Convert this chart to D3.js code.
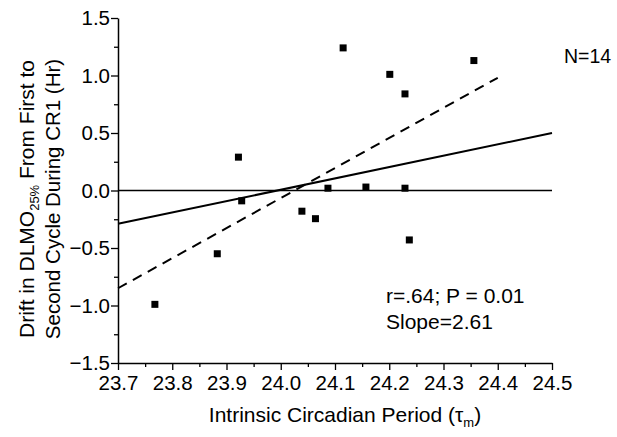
<!DOCTYPE html>
<html>
<head>
<meta charset="utf-8">
<script src="https://cdn.jsdelivr.net/npm/d3@7"></script>
<style>
  body { margin: 0; background: #fff; }
  svg text { font-family: "Liberation Sans", Arial, sans-serif; fill: #000; }
</style>
</head>
<body>
<svg id="chart" width="617" height="437"></svg>
<script>
// measured values (period in hr, drift in hr)
var periods = [23.768, 23.883, 23.922, 23.928, 24.039, 24.064, 24.115, 24.087, 24.157, 24.201, 24.229, 24.356, 24.229, 24.237];
var drifts  = [-0.99, -0.55, 0.29, -0.09, -0.18, -0.245, 1.24, 0.02, 0.03, 1.01, 0.84, 1.13, 0.02, -0.43];

// fitted lines
var solidLine  = [[23.7, -0.29], [24.5, 0.50]];
var dashedLine = [[23.7, -0.85], [24.4, 0.98]];
var zeroLine   = [[23.7, 0], [24.5, 0]];

var xTicks = [23.7, 23.8, 23.9, 24.0, 24.1, 24.2, 24.3, 24.4, 24.5];
var yTicks = [-1.5, -1.0, -0.5, 0.0, 0.5, 1.0, 1.5];

var svg = d3.select("#chart");

var x = d3.scaleLinear().domain([23.7, 24.5]).range([118, 552]);
var y = d3.scaleLinear().domain([-1.5, 1.5]).range([363, 18]);

// minor ticks first (no labels)
var xMinor = d3.range(23.75, 24.5, 0.1);
var yMinor = d3.range(-1.25, 1.5, 0.5);

svg.append("g")
  .attr("transform", "translate(0,363)")
  .call(d3.axisBottom(x).tickValues(xMinor).tickSize(4).tickFormat(""))
  .call(function(g) { g.select(".domain").remove(); g.selectAll("line").attr("stroke-width", 1.3); });

svg.append("g")
  .attr("transform", "translate(118,0)")
  .call(d3.axisLeft(y).tickValues(yMinor).tickSize(4).tickFormat(""))
  .call(function(g) { g.select(".domain").remove(); g.selectAll("line").attr("stroke-width", 1.3); });

// major axes
var xAxis = svg.append("g")
  .attr("transform", "translate(0,363)")
  .call(d3.axisBottom(x).tickValues(xTicks).tickSize(7).tickSizeOuter(0).tickFormat(d3.format(".1f")));

var yAxis = svg.append("g")
  .attr("transform", "translate(118,0)")
  .call(d3.axisLeft(y).tickValues(yTicks).tickSize(7).tickSizeOuter(0).tickFormat(d3.format(".1f")));

[xAxis, yAxis].forEach(function(g) {
  g.select(".domain").attr("stroke-width", 1.5);
  g.selectAll("line").attr("stroke-width", 1.3);
  g.selectAll("text").attr("font-size", 20.5).attr("font-family", "Liberation Sans, Arial, sans-serif");
});
xAxis.selectAll("text").attr("dy", "0.93em").attr("y", 8);
yAxis.selectAll("text").attr("x", -8);

var line = d3.line().x(function(d) { return x(d[0]); }).y(function(d) { return y(d[1]); });

svg.append("path").datum(zeroLine).attr("d", line)
  .attr("fill", "none").attr("stroke", "#000").attr("stroke-width", 1.5);

svg.append("path").datum(solidLine).attr("d", line)
  .attr("fill", "none").attr("stroke", "#000").attr("stroke-width", 2);

svg.append("path").datum(dashedLine).attr("d", line)
  .attr("fill", "none").attr("stroke", "#000").attr("stroke-width", 2)
  .attr("stroke-dasharray", "10,7");

// points
var sz = 7;
svg.append("g").selectAll("rect")
  .data(periods.map(function(p, i) { return [p, drifts[i]]; }))
  .enter().append("rect")
  .attr("x", function(d) { return x(d[0]) - sz / 2; })
  .attr("y", function(d) { return y(d[1]) - sz / 2; })
  .attr("width", sz)
  .attr("height", sz)
  .attr("fill", "#000");

// annotations
svg.append("text").attr("x", 564).attr("y", 63).attr("font-size", 19.5).text("N=14");
svg.append("text").attr("x", 386).attr("y", 303).attr("font-size", 21).text("r=.64; P = 0.01");
svg.append("text").attr("x", 386).attr("y", 329).attr("font-size", 21).text("Slope=2.61");

// x title
var xt = svg.append("text").attr("x", 345).attr("y", 422).attr("text-anchor", "middle").attr("font-size", 21);
xt.append("tspan").text("Intrinsic Circadian Period (\u03C4");
xt.append("tspan").attr("font-size", 13).attr("dy", 5).text("m");
xt.append("tspan").attr("dy", -5).text(")");

// y title, two lines
var yt = svg.append("g").attr("transform", "translate(0,199) rotate(-90)");
var l1 = yt.append("text").attr("x", 0).attr("y", 34).attr("text-anchor", "middle").attr("font-size", 21);
l1.append("tspan").text("Drift in DLMO");
l1.append("tspan").attr("font-size", 13).attr("dy", 5).text("25%");
l1.append("tspan").attr("dy", -5).text(" From First to");
yt.append("text").attr("x", 0).attr("y", 60).attr("text-anchor", "middle").attr("font-size", 20.5)
  .text("Second Cycle During CR1 (Hr)");
</script>
</body>
</html>
